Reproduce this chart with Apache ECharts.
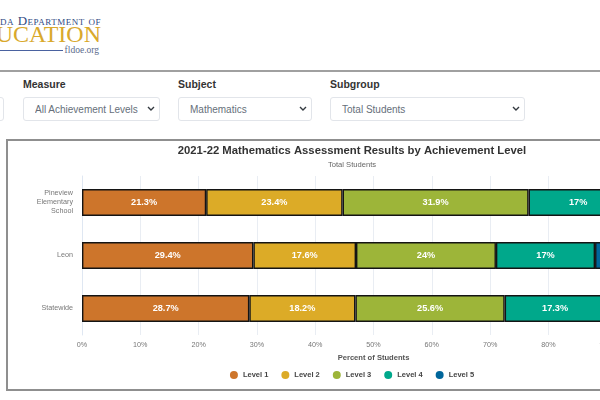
<!DOCTYPE html>
<html>
<head>
<meta charset="utf-8">
<title>Assessment Results</title>
<script src="https://cdn.jsdelivr.net/npm/echarts@6/dist/echarts.min.js"></script>
<style>
    html, body { margin: 0; padding: 0; width: 600px; height: 400px; overflow: hidden; background: #fff; font-family: "Liberation Sans", Arial, sans-serif; }
    .abs { position: absolute; white-space: nowrap; }
    .rule { position: absolute; left: 0; width: 600px; height: 2px; background: #a0a0a0; }
    .logo1 { right: 499px; top: 13px; font-family: "Liberation Serif", serif; letter-spacing: .5px; color: #2f4a83; font-variant: small-caps; font-size: 13px; }
    .logo2 { right: 499px; top: 21px; font-family: "Liberation Serif", serif; font-size: 24px; color: #d9a92c; }
    .logo3 { right: 501px; top: 45px; font-family: "Liberation Serif", serif; font-size: 9.5px; color: #5b6b8c; }
    .logoline { position: absolute; left: 0; width: 63px; top: 50px; height: 1px; background: #4a62a0; }
    .lbl { top: 78px; font-size: 10.5px; font-weight: bold; color: #333; }
    select { position: absolute; top: 97px; height: 24px; box-sizing: border-box; border: 1px solid #e2e5ea; border-radius: 3px; color: #666f7a; font-family: inherit; font-size: 10px; padding: 0 0 0 11px; -webkit-appearance: none; appearance: none;
        background: #fff url("data:image/svg+xml,%3Csvg xmlns='http://www.w3.org/2000/svg' width='8' height='6'%3E%3Cpath d='M1 1l3 3 3-3' fill='none' stroke='%23343a40' stroke-width='1.4'/%3E%3C/svg%3E") no-repeat right 4px center; }
    #chartBox { position: absolute; left: 6px; top: 139px; width: 692px; height: 252px; box-sizing: border-box; border: 2px solid #8f8f8f; }
    #chart { position: absolute; left: 0; top: 0; width: 688px; height: 248px; }
</style>
</head>
<body>
<div class="abs logo1">Florida Department of</div>
<div class="abs logo2">EDUCATION</div>
<div class="logoline"></div>
<div class="abs logo3">fldoe.org</div>
<div class="rule" style="top:70px"></div>

<select style="left:-100px;width:104px"><option>All</option></select>
<div class="abs lbl" style="left:23px">Measure</div>
<select style="left:23px;width:137px"><option>All Achievement Levels</option></select>
<div class="abs lbl" style="left:178px">Subject</div>
<select style="left:178px;width:134px"><option>Mathematics</option></select>
<div class="abs lbl" style="left:330px">Subgroup</div>
<select style="left:330px;width:195px"><option>Total Students</option></select>

<div id="chartBox"><div id="chart"></div></div>

<script>
// 数据
var categories = ["Pineview\nElementary\nSchool", "Leon", "Statewide"];
var level1 = [21.3, 29.4, 28.7];
var level2 = [23.4, 17.6, 18.2];
var level3 = [31.9, 24, 25.6];
var level4 = [17, 17, 17.3];
var level5 = [6.4, 12, 10.2];
var levelNames = ["Level 1", "Level 2", "Level 3", "Level 4", "Level 5"];
var levelColors = ["#cd752b", "#dcab27", "#9db539", "#00a88b", "#00669b"];
var xTicks = [0, 10, 20, 30, 40, 50, 60, 70, 80, 90, 100];

var levelData = [level1, level2, level3, level4, level5];
var series = [];
for (var i = 0; i < levelData.length; i++) {
    series.push({
        name: levelNames[i],
        type: "bar",
        stack: "total",
        barWidth: 27,
        data: levelData[i],
        itemStyle: { color: levelColors[i], borderColor: "#141414", borderWidth: 1.4 },
        label: {
            show: true,
            position: "inside",
            formatter: "{c}%",
            color: "#fff",
            fontSize: 9.2,
            fontWeight: "bold",
            fontFamily: "Liberation Sans"
        }
    });
}

var myChart = echarts.init(document.getElementById("chart"), null, { renderer: "canvas" });
myChart.setOption({
    animation: false,
    textStyle: { fontFamily: "Liberation Sans" },
    title: {
        text: "2021-22 Mathematics Assessment Results by Achievement Level",
        subtext: "Total Students",
        left: "center",
        top: -1,
        itemGap: 5,
        textStyle: { fontSize: 11.3, fontWeight: "bold", color: "#333" },
        subtextStyle: { fontSize: 7.6, color: "#666" }
    },
    legend: {
        data: levelNames,
        left: "center",
        top: 225,
        icon: "circle",
        itemWidth: 8,
        itemHeight: 8,
        itemGap: 13,
        itemStyle: { borderWidth: 0 },
        textStyle: { fontSize: 7.5, fontWeight: "bold", color: "#444" }
    },
    grid: { left: 74, top: 35, width: 583, height: 159 },
    xAxis: {
        type: "value",
        min: xTicks[0],
        max: xTicks[xTicks.length - 1],
        interval: 10,
        name: "Percent of Students",
        nameLocation: "middle",
        nameGap: 14,
        nameTextStyle: { fontSize: 7.6, fontWeight: "bold", color: "#555" },
        axisLabel: { formatter: "{value}%", fontSize: 7.2, color: "#777", margin: 7 },
        axisLine: { show: false },
        axisTick: { show: false },
        splitLine: { show: true, lineStyle: { color: "#e9edf3", width: 1 } }
    },
    yAxis: {
        type: "category",
        inverse: true,
        data: categories,
        axisLabel: { fontSize: 7.2, color: "#777", margin: 9, lineHeight: 9, align: "right" },
        axisLine: { show: true, lineStyle: { color: "#dfe7f2" } },
        axisTick: { show: false }
    },
    series: series
});
</script>
</body>
</html>
